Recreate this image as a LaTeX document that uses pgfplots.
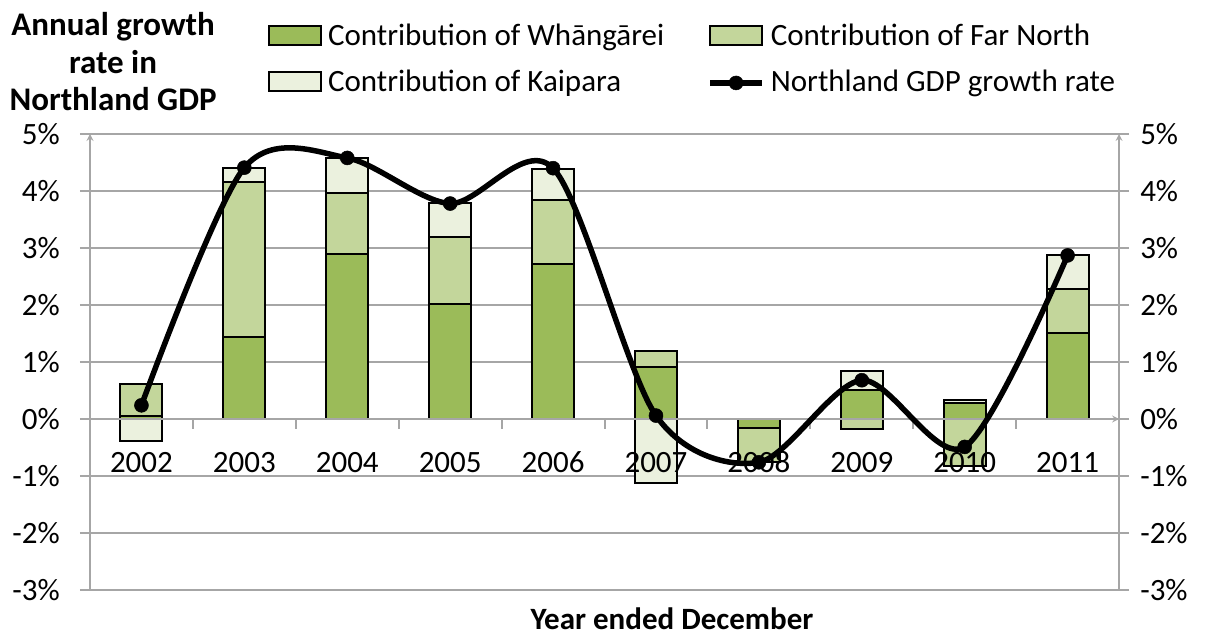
\documentclass[border=0pt]{standalone}
\usepackage{fontspec}
\setmainfont{Carlito}
\usepackage{pgfplots}
\pgfplotsset{compat=1.18}
\definecolor{wcol}{RGB}{155,187,89}
\definecolor{fcol}{RGB}{195,214,155}
\definecolor{kcol}{RGB}{235,241,222}
\definecolor{gridc}{RGB}{166,166,166}
\newcommand{\fnt}{\fontsize{31}{37}\selectfont}
\pgfplotsset{
  base/.style={
    width=1029pt, height=456pt, scale only axis,
    at={(90pt,49pt)}, anchor=south west,
    xmin=-0.5, xmax=9.5, ymin=-3, ymax=5,
    ytick={-3,-2,...,5},
    yticklabels={-3\%,-2\%,-1\%,0\%,1\%,2\%,3\%,4\%,5\%},
    ybar stacked, bar width=42pt,
    tick label style={font=\fnt},
    major tick length=10pt,
    axis line style={draw=gridc, line width=2pt, -},
    clip=false,
  },
  barst/.style={draw=black, line width=2pt, fill=#1},
  barleg/.style={legend image code/.code={\draw[##1,line width=2pt] (0pt,-6.5pt) rectangle (52pt,12.5pt);}},
  lineleg/.style={legend image code/.code={\draw[##1, mark repeat=2, mark phase=2] plot coordinates {(0pt,1.6pt) (26pt,1.6pt) (52pt,1.6pt)};}},
}
\begin{document}
\begin{tikzpicture}
\path[use as bounding box] (0,0) rectangle (1212pt,639pt);
% axis 1: grid, left axis, positive contributions
\begin{axis}[base,
  axis x line=none, axis y line=left,
  xtick=\empty,
  ytick align=outside,
  y tick style={draw=gridc, line width=2pt},
  ymajorgrids, xmajorgrids=false,
  grid style={draw=gridc, line width=2pt},
  yticklabel style={anchor=east, inner sep=0pt, xshift=-20pt},
  ylabel={Annual growth\\rate in\\Northland GDP},
  every axis y label/.style={at={(axis description cs:0.0224,1.158)}, anchor=center, rotate=0, align=center, font=\fontsize{33}{37.5}\selectfont\bfseries},
]
\addplot[barst=wcol] coordinates {(0,0.05) (1,1.44) (2,2.89) (3,2.01) (4,2.72) (5,0.91) (6,0) (7,0.51) (8,0.28) (9,1.50)};
\addplot[barst=fcol] coordinates {(0,0.57) (1,2.72) (2,1.08) (3,1.18) (4,1.12) (5,0.28) (6,0) (7,0) (8,0) (9,0.78)};
\addplot[barst=kcol] coordinates {(0,0) (1,0.25) (2,0.61) (3,0.60) (4,0.55) (5,0) (6,0) (7,0.34) (8,0.05) (9,0.59)};
\end{axis}
% axis 2: negative contributions, category axis at 0 (drawn on top of bars)
\begin{axis}[base,
  axis on top,
  axis x line=middle, axis y line=none,
  ytick=\empty,
  xtick={0,...,9}, xticklabels={2002,2003,2004,2005,2006,2007,2008,2009,2010,2011},
  major x tick style={draw=none},
  minor xtick={0.5,1.5,...,8.5},
  minor x tick style={draw=gridc, line width=2pt},
  minor tick length=10pt,
  xtick align=outside,
  xticklabel style={anchor=base, inner sep=0pt, yshift=-43pt},
  xlabel={Year ended December},
  every axis x label/.style={at={(axis description cs:0.5656,-0.0636)}, anchor=center, font=\fnt\bfseries},
]
\addplot[barst=wcol] coordinates {(0,0) (1,0) (2,0) (3,0) (4,0) (5,0) (6,-0.15) (7,0) (8,0) (9,0)};
\addplot[barst=fcol] coordinates {(0,0) (1,0) (2,0) (3,0) (4,0) (5,0) (6,-0.61) (7,-0.17) (8,-0.82) (9,0)};
\addplot[barst=kcol] coordinates {(0,-0.38) (1,0) (2,0) (3,0) (4,0) (5,-1.13) (6,0) (7,0) (8,0) (9,0)};
\end{axis}
% axis 3: right axis, growth line, legend
\begin{axis}[base,
  axis x line=none, axis y line=right,
  xtick=\empty,
  ytick align=outside,
  y tick style={draw=gridc, line width=2pt},
  yticklabel style={anchor=west, inner sep=0pt, xshift=11pt},
  legend columns=2, legend cell align=left,
  legend style={at={(axis description cs:0.1730,1.240)}, anchor=north west,
    draw=none, fill=none, inner sep=0pt, outer sep=0pt, font=\fnt,
    row sep=18pt, nodes={inner sep=0pt, text height=21pt, text depth=7pt},
    /tikz/every odd column/.append style={column sep=6pt},
    /tikz/every even column/.append style={column sep=43pt}},
]
\addlegendimage{barst=wcol, barleg}
\addlegendentry{Contribution of Whāngārei}
\addlegendimage{barst=fcol, barleg}
\addlegendentry{Contribution of Far North}
\addlegendimage{barst=kcol, barleg}
\addlegendentry{Contribution of Kaipara}
\addplot[stack plots=false, smooth, tension=0.5, black, line width=5.5pt, mark=*, mark size=7pt, mark options={solid, fill=black, line width=0.5pt}, lineleg] coordinates {(0,0.24) (1,4.41) (2,4.58) (3,3.78) (4,4.40) (5,0.06) (6,-0.76) (7,0.68) (8,-0.49) (9,2.87)};
\addlegendentry{Northland GDP growth rate}
\end{axis}
\end{tikzpicture}
\end{document}
